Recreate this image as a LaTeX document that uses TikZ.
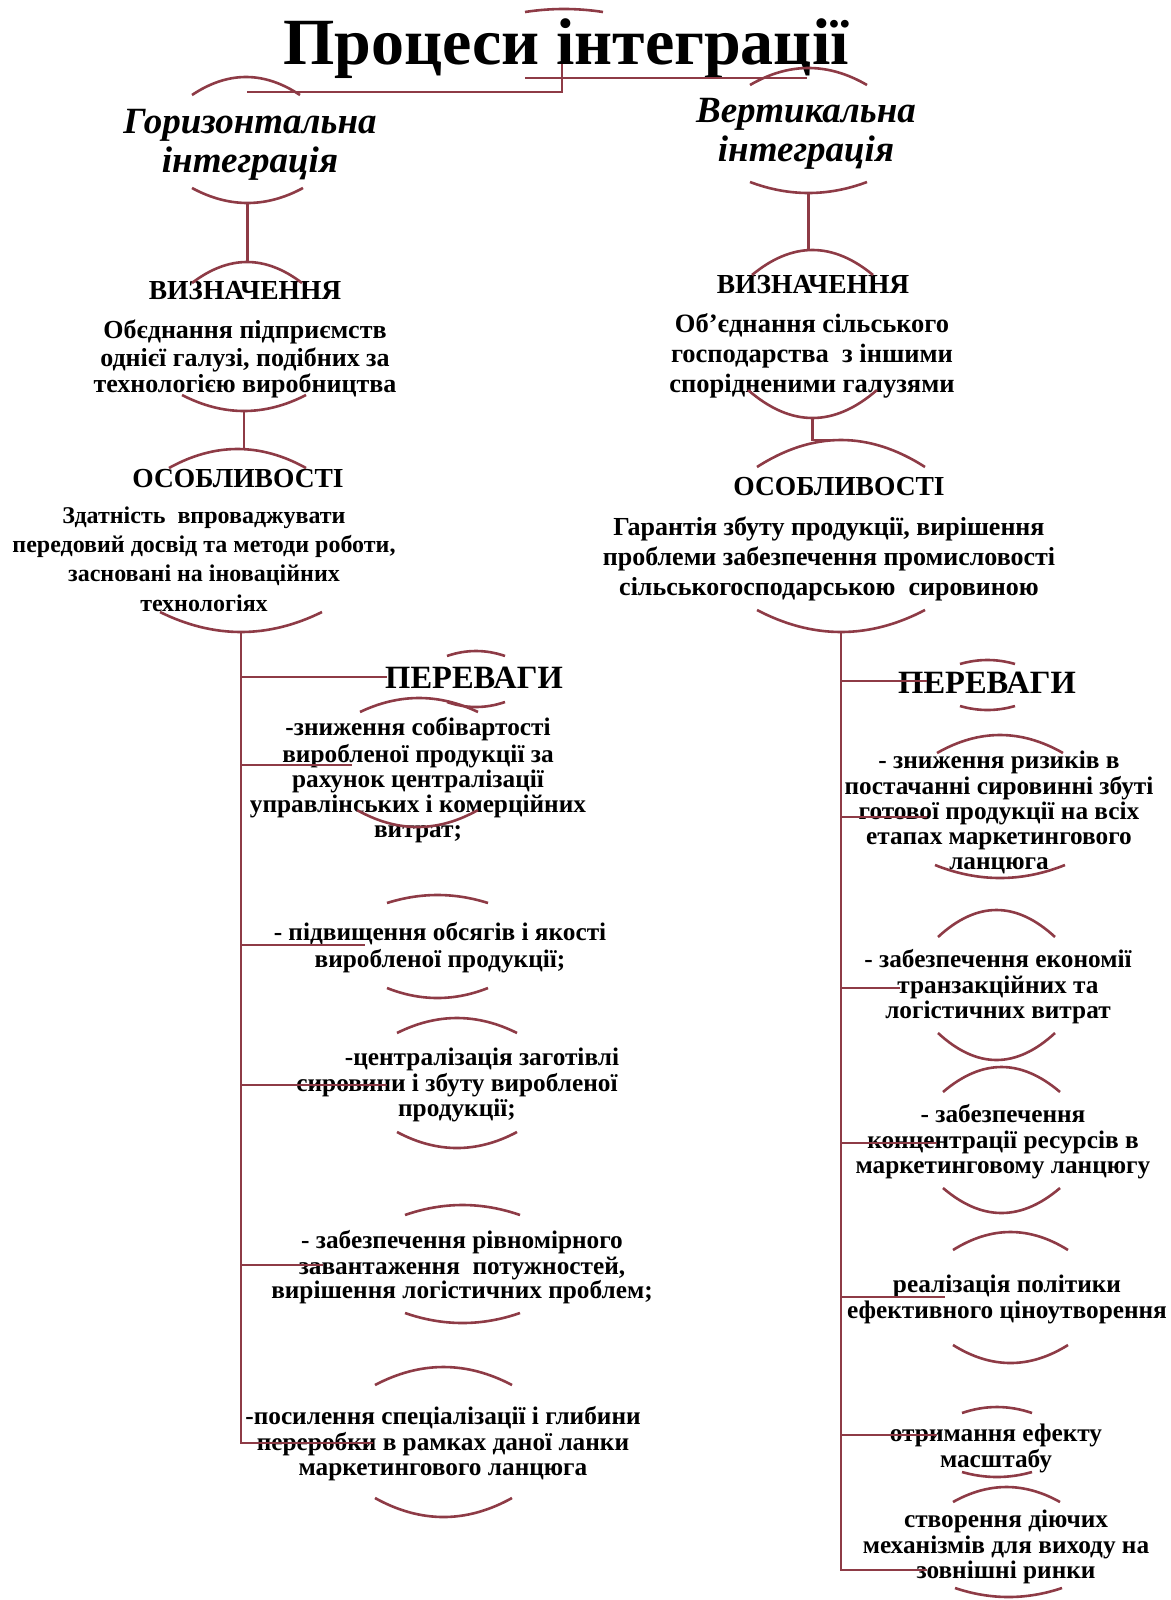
\documentclass[tikz,border=0pt]{standalone}
\usepackage{fontspec}
\setmainfont{Liberation Serif}
\definecolor{lc}{RGB}{142,59,70}
\newcommand\myfs[2]{\fontsize{#1}{#2}\selectfont}
% arc: x1 x2 yend ypeak name  (parabolic arc as cubic)
\newcommand\marc[5]{\draw[arcl] (#1,#3) .. controls ({#1+(#2-#1)/3},{#3+4*(#4-#3)/3}) and ({#2-(#2-#1)/3},{#3+4*(#4-#3)/3}) .. (#2,#3);\coordinate (#5) at ({(#1+#2)/2},#4);}
\begin{document}
\begin{tikzpicture}[x=1pt,y=-1pt,
  ln/.style={draw=lc,line width=2.8pt},
  arcl/.style={draw=lc,line width=2.6pt},
  txt/.style={inner sep=0pt,anchor=north,align=center,text=black},
  hd/.style={inner sep=0pt,anchor=base,text=black},
  item/.style={txt,font=\myfs{25.3}{#1}\bfseries}]
\useasboundingbox (0,0) rectangle (1170,1600);

% ---------- texts ----------
\node[hd,font=\myfs{66}{72}\bfseries] (root) at (566,65) {Процеси інтеграції};
\node[txt,font=\myfs{37}{39}\bfseries\itshape] (hor) at (250,105.7) {\strut Горизонтальна\\інтеграція};
\node[txt,font=\myfs{37}{39}\bfseries\itshape] (ver) at (806,94.7) {\strut Вертикальна\\інтеграція};

\node[hd,font=\myfs{27.5}{30}\bfseries] (ldh) at (245,299) {ВИЗНАЧЕННЯ};
\node[txt,font=\myfs{26}{26}\bfseries] (ldt) at (245,319.8) {\strut Обєднання підприємств\\однієї галузі, подібних за\\технологією виробництва};
\node[hd,font=\myfs{27.5}{30}\bfseries] (lfh) at (238,487) {ОСОБЛИВОСТІ};
\node[txt,font=\myfs{24}{29.3}\bfseries] (lft) at (204,502.5) {\strut Здатність\ \ впроваджувати\\передовий досвід та методи роботи,\\засновані на іноваційних\\технологіях};

\node[hd,font=\myfs{27.5}{30}\bfseries] (rdh) at (813,293) {ВИЗНАЧЕННЯ};
\node[txt,font=\myfs{26.5}{30}\bfseries] (rdt) at (812,311) {\strut Об'єднання сільського\\господарства\ \ з іншими\\спорідненими галузями};
\node[hd,font=\myfs{27.5}{30}\bfseries] (rfh) at (839,495) {ОСОБЛИВОСТІ};
\node[txt,font=\myfs{26}{30}\bfseries] (rft) at (829,514) {\strut Гарантія збуту продукції, вирішення\\проблеми забезпечення промисловості\\сільськогосподарською\ \ сировиною};

\node[hd,font=\myfs{32.5}{36}\bfseries] (lp) at (474,688) {ПЕРЕВАГИ};
\node[item=25] (l1) at (418,717.5) {\strut -зниження собівартості\\виробленої продукції за\\рахунок централізації\\управлінських і комерційних\\витрат;};
\node[item=27] (l2) at (440,921.1) {\strut - підвищення обсягів і якості\\виробленої продукції;};
\node[item=25] (l3) at (457,1047.5) {\strut\hspace*{50pt}-централізація заготівлі\\сировини і збуту виробленої\\продукції;};
\node[item=24] (l4) at (462,1230.2) {\strut - забезпечення рівномірного\\завантаження\ \ потужностей,\\вирішення логістичних проблем;};
\node[item=24.5] (l5) at (443,1405.85) {\strut -посилення спеціалізації і глибини\\переробки в рамках даної ланки\\маркетингового ланцюга};

\node[hd,font=\myfs{32.5}{36}\bfseries] (rp) at (987,693) {ПЕРЕВАГИ};
\node[item=25] (r1) at (999,750.5) {\strut - зниження ризиків в\\постачанні сировинні збуті\\готової продукції на всіх\\етапах маркетингового\\ланцюга};
\node[item=25.5] (r2) at (998,949.2) {\strut - забезпечення економії\\транзакційних та\\логістичних витрат};
\node[item=25.5] (r3) at (1003,1104.2) {\strut - забезпечення\\концентрації ресурсів в\\маркетинговому ланцюгу};
\node[item=25] (r4) at (1007,1274.5) {\strut реалізація політики\\ефективного ціноутворення};
\node[item=23] (r5) at (996,1423.9) {\strut отримання ефекту\\масштабу};
\node[item=25] (r6) at (1006,1509.5) {\strut створення діючих\\механізмів для виходу на\\зовнішні ринки};

% ---------- arcs ----------
\marc{525}{603}{12}{9}{rootT}
\marc{192}{300}{95}{77}{horT}
\marc{192}{303}{188}{203}{horB}
\marc{750}{867}{85}{68}{verT}
\marc{750}{867}{182}{193}{verB}

\marc{192}{302}{283}{262}{ldT}
\marc{182}{306}{395}{411}{ldB}
\marc{169}{306}{468}{449}{lfT}
\marc{160}{322}{612}{632}{lfB}

\marc{752}{873}{275}{250}{rdT}
\marc{748}{877}{390}{418}{rdB}
\marc{757}{925}{467}{440}{rfT}
\marc{757}{925}{610}{632}{rfB}

\marc{447}{505}{656}{651}{lpT}
\marc{447}{505}{702}{707}{lpB}
\marc{360}{478}{712}{698}{l1T}
\marc{357}{478}{810}{827}{l1B}
\marc{387}{488}{903}{895}{l2T}
\marc{387}{488}{988}{998}{l2B}
\marc{397}{517}{1033}{1018}{l3T}
\marc{397}{517}{1132}{1148}{l3B}
\marc{405}{520}{1215}{1205}{l4T}
\marc{405}{520}{1313}{1323}{l4B}
\marc{375}{512}{1385}{1367}{l5T}
\marc{375}{512}{1498}{1517}{l5B}

\marc{960}{1015}{664}{660}{rpT}
\marc{960}{1015}{706}{710}{rpB}
\marc{937}{1063}{753}{735}{r1T}
\marc{935}{1065}{865}{878}{r1B}
\marc{938}{1055}{937}{910}{r2T}
\marc{938}{1055}{1033}{1060}{r2B}
\marc{943}{1060}{1092}{1067}{r3T}
\marc{943}{1060}{1188}{1213}{r3B}
\marc{953}{1068}{1250}{1232}{r4T}
\marc{953}{1068}{1345}{1363}{r4B}
\marc{962}{1032}{1413}{1407}{r5T}
\marc{962}{1032}{1472}{1477}{r5B}
\marc{953}{1060}{1502}{1487}{r6T}
\marc{955}{1062}{1588}{1597}{r6B}

% ---------- connectors ----------
\coordinate (rootL) at (562,64);
\coordinate (rootR) at (525,78);
\coordinate (horJ) at (247,92);
\coordinate (verJ) at (807,78);
\draw[ln] (rootL) |- (horJ);
\draw[ln] (rootR) -- (verJ);

\draw[ln] (horB) -- (horB |- ldT);
\draw[ln] (ldB) -- (ldB |- lfT);
\draw[ln] (verB) -- (verB |- rdT);
\draw[ln] (rdB) |- (rfT);

% left trunk and branches
\coordinate (lb0) at (387,677);
\coordinate (lb1) at (352,765);
\coordinate (lb2) at (365,945);
\coordinate (lb3) at (387,1085);
\coordinate (lb4) at (323,1265);
\coordinate (lb5) at (373,1443);
\draw[ln] (lfB) |- (lb5);
\foreach \b in {lb0,lb1,lb2,lb3,lb4} \draw[ln] (lfB |- \b) -- (\b);

% right trunk and branches
\coordinate (rb0) at (927,681);
\coordinate (rb1) at (927,817);
\coordinate (rb2) at (900,988);
\coordinate (rb3) at (937,1143);
\coordinate (rb4) at (945,1297);
\coordinate (rb5) at (937,1435);
\coordinate (rb6) at (927,1570);
\draw[ln] (rfB) |- (rb6);
\foreach \b in {rb0,rb1,rb2,rb3,rb4,rb5} \draw[ln] (rfB |- \b) -- (\b);
\end{tikzpicture}
\end{document}
